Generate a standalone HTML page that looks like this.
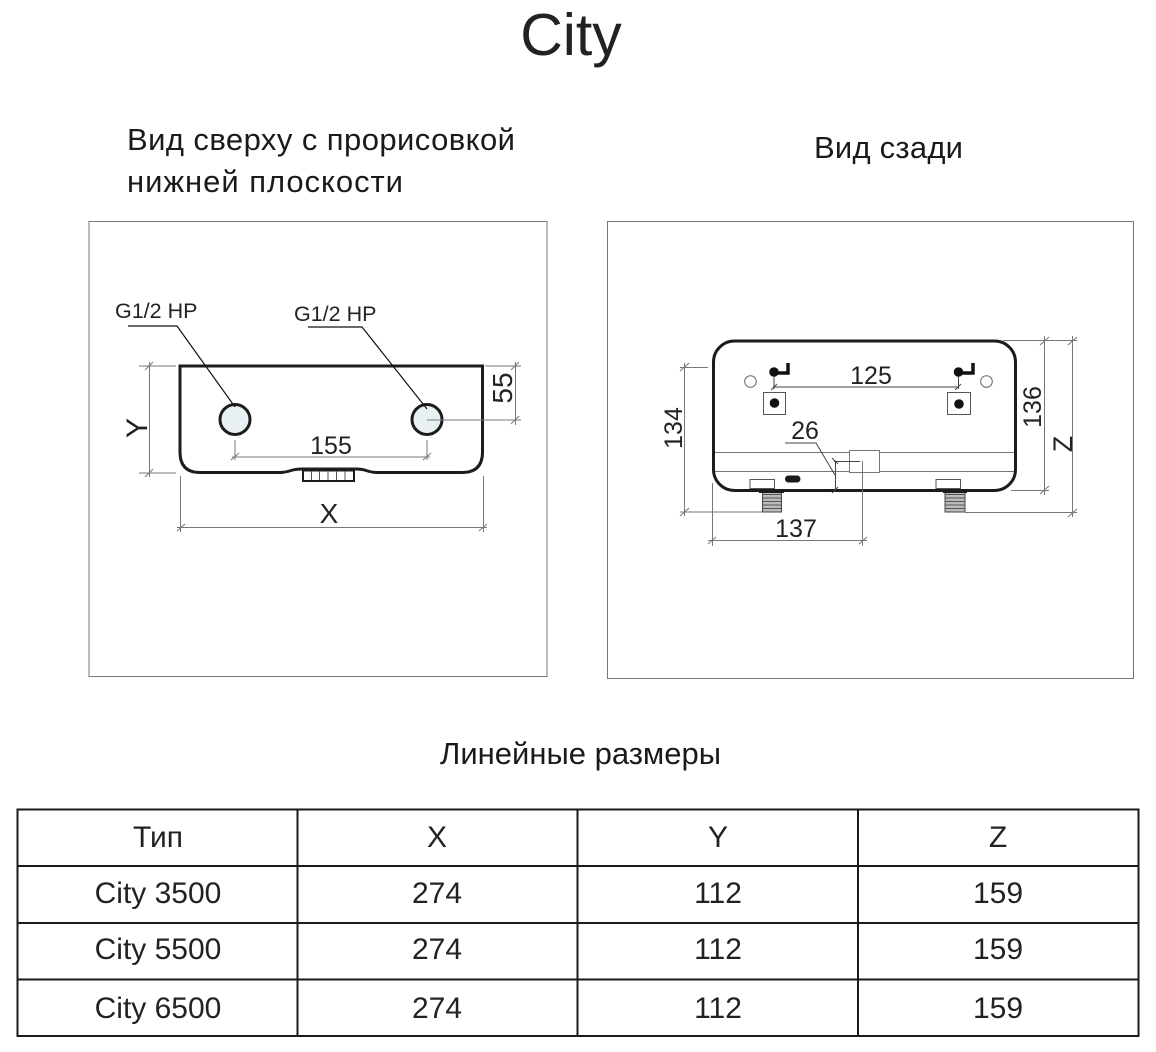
<!DOCTYPE html>
<html lang="ru"><head><meta charset="utf-8"><title>City</title>
<style>
html,body{margin:0;padding:0;background:#fff}
svg{display:block}
text{font-family:"Liberation Sans",sans-serif;fill:#222}
.d{stroke:#777;stroke-width:1;fill:none}
.k{stroke:#444;stroke-width:1;fill:none}
.b{stroke:#1c1c1c;stroke-width:3;fill:none}
.l{stroke:#111;stroke-width:1.2;fill:none}
.m{text-anchor:middle}
.h{font-size:31px;fill:#1a1a1a}
.t{font-size:30px;text-anchor:middle}
</style></head><body>
<svg width="1156" height="1052" viewBox="0 0 1156 1052" xmlns="http://www.w3.org/2000/svg">
<rect width="1156" height="1052" fill="#fff"/>
<text x="571" y="55" class="m" font-size="59">City</text>
<text x="127" y="150" class="h" textLength="388" lengthAdjust="spacing">Вид сверху с прорисовкой</text>
<text x="127" y="192" class="h" textLength="276" lengthAdjust="spacing">нижней плоскости</text>
<text x="814" y="158" class="h" textLength="149" lengthAdjust="spacing">Вид сзади</text>
<text x="440" y="764" class="h" textLength="281" lengthAdjust="spacing">Линейные размеры</text>

<rect x="89" y="221.500" width="458" height="455" fill="none" stroke="#777"/>
<rect x="607.500" y="221.500" width="526" height="457" fill="none" stroke="#777"/>

<!-- top view -->
<path class="b" d="M180 366H482.500V452Q482.500 472.500 462 472.500H377Q372 472.500 366 470.500Q362 469 356 469H302Q296 469 291 470.500Q285 472.500 280 472.500H200Q180 472.500 180 452Z"/>
<rect x="303" y="470.500" width="51" height="10.500" fill="#fff" stroke="#1c1c1c" stroke-width="2"/>
<path d="M311.500 471v9M319.500 471v9M328 471v9M336.500 471v9M345 471v9" stroke="#555" stroke-width="1"/>
<circle cx="235" cy="419.500" r="15" fill="#e9f0f3" stroke="#1c1c1c" stroke-width="3"/>
<circle cx="427" cy="419.500" r="15" fill="#e9f0f3" stroke="#1c1c1c" stroke-width="3"/>
<path class="l" d="M128 326H177L235 407M308 327H362L427 409"/>
<path class="d" d="M139 366H176M139 473H176M149.500 362V477M145 370l8-8M145 477l8-8"/>
<path class="d" d="M485 366H521M427 420H521M515.500 362V425M511 370l8-8M511 424l8-8"/>
<path class="d" d="M235 440V460M427 440V460M232 457H430M231 460l8-7M423 460l8-7"/>
<path class="d" d="M180.500 476V532M483.500 476V532M177 527.500H487M177 531l8-7M479 531l8-7"/>
<text x="115" y="318" font-size="21.500">G1/2 HP</text>
<text x="294" y="321" font-size="21.500">G1/2 HP</text>
<text x="331" y="454" class="m" font-size="25">155</text>
<text x="329" y="523" class="m" font-size="28">X</text>
<text class="m" font-size="30" transform="translate(147 428) rotate(-90)">Y</text>
<text class="m" font-size="28" transform="translate(512 388) rotate(-90)">55</text>

<!-- back view -->
<path class="d" d="M713 452.500H1015M713 471.500H1015"/>
<rect x="849.500" y="450.500" width="30" height="22" fill="#fff" stroke="#777"/>
<path class="d" d="M713 471.500H849M880 471.500H1015"/>
<rect x="713.500" y="341" width="302" height="149.500" rx="21" fill="none" stroke="#1c1c1c" stroke-width="3"/>
<circle cx="750.500" cy="381.500" r="5.800" fill="#fff" stroke="#666"/>
<circle cx="986.500" cy="381.500" r="5.800" fill="#fff" stroke="#666"/>
<circle cx="774" cy="372" r="4.800" fill="#111"/><circle cx="958.500" cy="372" r="4.800" fill="#111"/>
<path d="M774 373H788V363M958.500 373H973V363" fill="none" stroke="#111" stroke-width="3.500"/>
<rect x="763.500" y="392.500" width="22" height="22" fill="none" stroke="#555"/>
<rect x="947.500" y="392.500" width="23" height="22" fill="none" stroke="#555"/>
<circle cx="774.500" cy="403" r="4.800" fill="#111"/><circle cx="959" cy="404" r="4.800" fill="#111"/>
<path class="k" d="M774 376V389M958.500 376V389M773 387H958M771 390l6-6M955 390l6-6"/>
<rect x="750" y="479.500" width="24.500" height="9" fill="#fff" stroke="#555"/>
<rect x="936" y="479.500" width="24.500" height="9" fill="#fff" stroke="#555"/>
<rect x="785" y="475.500" width="15.500" height="7" rx="3.500" fill="#1a1a1a"/>
<rect x="762.500" y="491" width="19" height="21" fill="#bbb" stroke="#444"/>
<rect x="945" y="491" width="20" height="21" fill="#bbb" stroke="#444"/>
<path d="M763 494.500h18M763 498h18M763 501.500h18M763 505h18M763 508.500h18M945 494.500h20M945 498h20M945 501.500h20M945 505h20M945 508.500h20" stroke="#555" stroke-width="1"/>
<path d="M759 491.500H784M943 491.500H967" stroke="#1c1c1c" stroke-width="3"/>
<path class="d" d="M708 367.500H680M762 512H680M684.500 363V516M680 371l9-8M680 516l9-8"/>
<path class="d" d="M1003 340.500H1049M1011 490.500H1049M1044.500 336V495M1040 345l9-8M1040 494l9-8"/>
<path class="d" d="M1003 340.500H1077M965 512.500H1077M1072.500 336V517M1068 345l9-8M1068 517l9-8"/>
<path class="d" d="M712.500 483V546M862.500 461V546M708 540.500H867M708 544l8-7M859 544l8-7"/>
<path class="k" d="M785 443H816L835 475M835.500 462V491M834 461.500H860M832 458l6 6M832 493l6-6"/>
<text x="871" y="384" class="m" font-size="25">125</text>
<text x="805" y="439" class="m" font-size="25">26</text>
<text x="796" y="537" class="m" font-size="25">137</text>
<text class="m" font-size="25" transform="translate(682 428) rotate(-90)">134</text>
<text class="m" font-size="25" transform="translate(1041 407) rotate(-90)">136</text>
<text class="m" font-size="27" transform="translate(1072 444) rotate(-90)">Z</text>

<!-- table -->
<rect x="17.500" y="809.500" width="1121" height="226.500" fill="none" stroke="#1a1a1a" stroke-width="2"/>
<path d="M18 866H1138M18 923H1138M18 979.500H1138M297.500 810V1036M577.500 810V1036M858 810V1036" stroke="#1a1a1a" stroke-width="2" fill="none"/>
<text x="158" y="847" class="t">Тип</text><text x="437" y="847" class="t">X</text><text x="718" y="847" class="t">Y</text><text x="998" y="847" class="t">Z</text>
<text x="158" y="903" class="t">City 3500</text><text x="437" y="903" class="t">274</text><text x="718" y="903" class="t">112</text><text x="998" y="903" class="t">159</text>
<text x="158" y="959" class="t">City 5500</text><text x="437" y="959" class="t">274</text><text x="718" y="959" class="t">112</text><text x="998" y="959" class="t">159</text>
<text x="158" y="1018" class="t">City 6500</text><text x="437" y="1018" class="t">274</text><text x="718" y="1018" class="t">112</text><text x="998" y="1018" class="t">159</text>
</svg>
</body></html>
